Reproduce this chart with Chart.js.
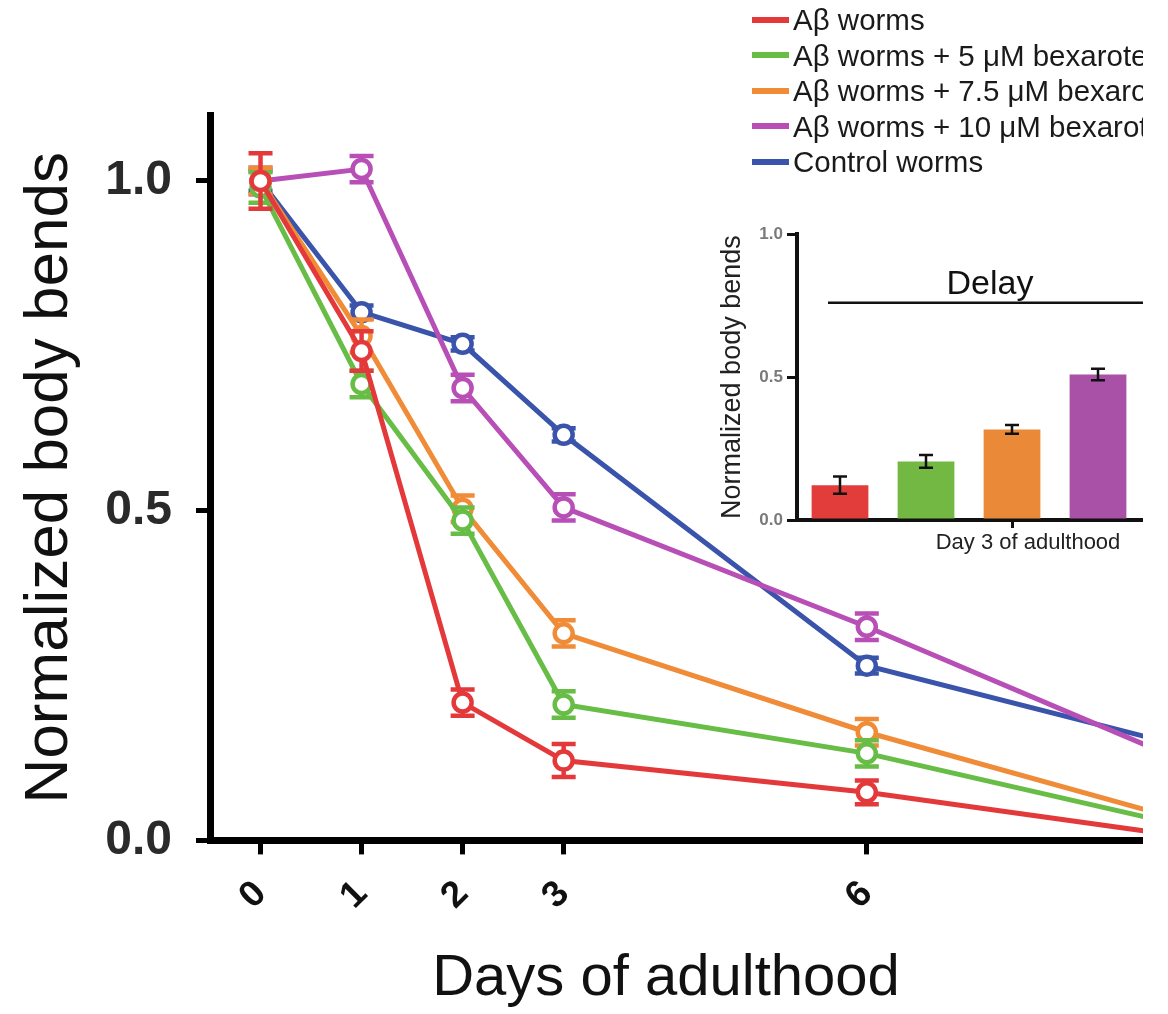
<!DOCTYPE html>
<html>
<head>
<meta charset="utf-8">
<script src="https://cdn.jsdelivr.net/npm/chart.js@4.4.1/dist/chart.umd.min.js"></script>
<style>
  body { margin: 0; background: #fff; }
  #wrap { position: relative; width: 1143px; height: 1014px; overflow: hidden; background: #fff; }
  #main { position: absolute; left: 0; top: 0; }
  #inset { position: absolute; left: 700px; top: 220px; }
  #legend { position: absolute; left: 752px; top: 2px; font-family: "Liberation Sans", Arial, sans-serif;
            font-size: 29.5px; color: #1a1a1a; white-space: nowrap; }
  #legend .row { height: 35.5px; line-height: 35.5px; display: flex; align-items: center; }
  #legend .sw { width: 37px; height: 6px; margin-right: 4px; }
</style>
</head>
<body>
<div id="wrap">
  <canvas id="main" width="1332" height="1014"></canvas>
  <canvas id="inset" width="560" height="340"></canvas>
  <div id="legend"></div>
</div>
<script>
// main chart data
var days = [0, 1, 2, 3, 6, 9];
var yTicks = [0, 0.5, 1.0];

var abWorms     = [1.00, 0.742, 0.209, 0.121, 0.073, 0.009];
var abBex5      = [0.99, 0.692, 0.485, 0.206, 0.132, 0.027];
var abBex75     = [1.00, 0.765, 0.503, 0.314, 0.164, 0.036];
var abBex10     = [1.00, 1.018, 0.686, 0.505, 0.324, 0.129];
var controlWorm = [1.00, 0.801, 0.753, 0.615, 0.265, 0.148];

var abWormsErr     = [0.042, 0.030, 0.020, 0.025, 0.018, 0.010];
var abBex5Err      = [0.023, 0.020, 0.020, 0.020, 0.020, 0.010];
var abBex75Err     = [0.020, 0.025, 0.020, 0.020, 0.020, 0.010];
var abBex10Err     = [0.020, 0.020, 0.020, 0.020, 0.020, 0.010];
var controlWormErr = [0.015, 0.010, 0.010, 0.010, 0.012, 0.010];

var seriesNames = ['A\u03b2 worms', 'A\u03b2 worms + 5 \u03bcM bexarotene', 'A\u03b2 worms + 7.5 \u03bcM bexarotene',
                   'A\u03b2 worms + 10 \u03bcM bexarotene', 'Control worms'];
var seriesColors = ['#e4393b', '#67bd45', '#f08c38', '#b74fb6', '#3a54ab'];

// inset (day 3) data
var insetLabels = ['Day 3 of adulthood'];
var insetValues = [0.122, 0.205, 0.317, 0.509, 0.615];
var insetErrors = [0.030, 0.022, 0.015, 0.020, 0.012];
var insetColors = ['#e23d3a', '#73b843', '#ea8a39', '#a851a6', '#3a54ab'];
var insetTicks = [0, 0.5, 1.0];
var delayLevel = 0.76;

Chart.defaults.font.family = '"Liberation Sans", Arial, sans-serif';
Chart.defaults.color = '#111';

function drawErrors(chart, index, opts) {
  var ds = chart.data.datasets[index];
  var meta = chart.getDatasetMeta(index);
  var yScale = chart.scales.y;
  var ctx = chart.ctx;
  ctx.save();
  ctx.strokeStyle = opts.color || ds.borderColor;
  ctx.lineWidth = opts.width;
  meta.data.forEach(function (el, i) {
    var v = meta.controller.getParsed(i).y;
    var e = ds.errors[i];
    var top = yScale.getPixelForValue(v + e);
    var bot = yScale.getPixelForValue(v - e);
    ctx.beginPath();
    ctx.moveTo(el.x, top); ctx.lineTo(el.x, bot);
    ctx.moveTo(el.x - opts.cap, top); ctx.lineTo(el.x + opts.cap, top);
    ctx.moveTo(el.x - opts.cap, bot); ctx.lineTo(el.x + opts.cap, bot);
    ctx.stroke();
  });
  ctx.restore();
}

var errorBars = {
  id: 'errorBars',
  beforeDatasetDraw: function (chart, args, opts) {
    if (opts.mode === 'before') drawErrors(chart, args.index, opts);
  },
  afterDatasetDraw: function (chart, args, opts) {
    if (opts.mode === 'after') drawErrors(chart, args.index, opts);
  }
};

var allSeries = [abWorms, abBex5, abBex75, abBex10, controlWorm];
var allErrors = [abWormsErr, abBex5Err, abBex75Err, abBex10Err, controlWormErr];

var lineSets = allSeries.map(function (vals, k) {
  return {
    label: seriesNames[k],
    data: days.map(function (d, i) { return { x: d, y: vals[i] }; }),
    errors: allErrors[k],
    borderColor: seriesColors[k],
    backgroundColor: seriesColors[k],
    borderWidth: 5,
    pointRadius: 9,
    pointBorderWidth: 4.5,
    pointBackgroundColor: '#fff',
    pointBorderColor: seriesColors[k],
    tension: 0
  };
});

new Chart(document.getElementById('main'), {
  type: 'line',
  data: { datasets: lineSets },
  plugins: [errorBars],
  options: {
    responsive: false,
    animation: false,
    layout: { padding: { top: 115, left: 0, right: 0, bottom: 0 } },
    plugins: {
      legend: { display: false },
      tooltip: { enabled: false },
      title: {
        display: true, position: 'bottom', text: 'Days of adulthood',
        font: { size: 58, weight: 'normal', lineHeight: 1.2 }, color: '#111', padding: 0
      },
      errorBars: { mode: 'before', width: 4.5, cap: 12 }
    },
    scales: {
      x: {
        type: 'linear', min: -0.5, max: 10.47,
        afterFit: function (s) { s.height = 104; },
        afterBuildTicks: function (s) { s.ticks = days.map(function (d) { return { value: d }; }); },
        grid: { drawOnChartArea: false, drawTicks: true, tickLength: 14, lineWidth: 5, color: '#000' },
        border: { display: true, width: 7, color: '#000' },
        ticks: { minRotation: 45, maxRotation: 45, padding: 18, color: '#111',
                 font: { size: 37, weight: 'bold' } }
      },
      y: {
        min: 0, max: 1.1,
        afterFit: function (s) { s.width = 210; },
        afterBuildTicks: function (s) { s.ticks = yTicks.map(function (v) { return { value: v }; }); },
        grid: { drawOnChartArea: false, drawTicks: true, tickLength: 14, lineWidth: 5, color: '#000' },
        border: { display: true, width: 7, color: '#000' },
        ticks: { padding: 24, color: '#2a2a2a', font: { size: 48, weight: 'bold' },
                 callback: function (v) { return v.toFixed(1); } },
        title: { display: true, text: 'Normalized body bends', color: '#111',
                 font: { size: 62, weight: 'normal', lineHeight: 1.2 }, padding: { top: 13, bottom: 0 } }
      }
    }
  }
});

// delay annotation for the inset
var delayMark = {
  id: 'delayMark',
  afterDraw: function (chart) {
    var bars = chart.getDatasetMeta(0).data;
    var last = chart.getDatasetMeta(chart.data.datasets.length - 1).data;
    var y = chart.scales.y.getPixelForValue(delayLevel);
    var x0 = bars[0].x - 12;
    var x1 = last[0].x - 32;
    var ctx = chart.ctx;
    ctx.save();
    ctx.strokeStyle = '#111';
    ctx.lineWidth = 2.5;
    ctx.beginPath(); ctx.moveTo(x0, y); ctx.lineTo(chart.chartArea.right, y); ctx.stroke();
    ctx.fillStyle = '#111';
    ctx.font = '34px "Liberation Sans", Arial, sans-serif';
    ctx.textAlign = 'center';
    ctx.textBaseline = 'alphabetic';
    ctx.fillText('Delay', (x0 + x1) / 2, y - 9);
    ctx.restore();
  }
};

var barSets = insetValues.map(function (v, k) {
  return {
    label: seriesNames[k],
    data: [v],
    errors: [insetErrors[k]],
    backgroundColor: insetColors[k],
    borderWidth: 0,
    categoryPercentage: 1.0,
    barPercentage: 0.66
  };
});

new Chart(document.getElementById('inset'), {
  type: 'bar',
  data: { labels: insetLabels, datasets: barSets },
  plugins: [errorBars, delayMark],
  options: {
    responsive: false,
    animation: false,
    layout: { padding: { top: 13, left: 0, right: 33, bottom: 0 } },
    plugins: {
      legend: { display: false },
      tooltip: { enabled: false },
      errorBars: { mode: 'after', width: 2.5, cap: 7, color: '#111' }
    },
    scales: {
      x: {
        afterFit: function (s) { s.height = 40; },
        grid: { drawOnChartArea: false, offset: false, tickLength: 8, lineWidth: 3, color: '#111' },
        border: { display: true, width: 4, color: '#111' },
        ticks: { labelOffset: 16, padding: 2, color: '#222', font: { size: 22 } }
      },
      y: {
        min: 0, max: 1.0,
        afterFit: function (s) { s.width = 97; },
        afterBuildTicks: function (s) { s.ticks = insetTicks.map(function (v) { return { value: v }; }); },
        grid: { drawOnChartArea: false, tickLength: 10, lineWidth: 3, color: '#111' },
        border: { display: true, width: 4, color: '#111' },
        ticks: { padding: 4, color: '#7a7a7a', font: { size: 17, weight: 'bold' },
                 callback: function (v) { return v.toFixed(1); } },
        title: { display: true, text: 'Normalized body bends', color: '#222',
                 font: { size: 27, weight: 'normal', lineHeight: 1.2 }, padding: { top: 16, bottom: 0 } }
      }
    }
  }
});

// legend
var legend = document.getElementById('legend');
seriesNames.forEach(function (name, k) {
  var row = document.createElement('div');
  row.className = 'row';
  var sw = document.createElement('span');
  sw.className = 'sw';
  sw.style.background = seriesColors[k];
  var txt = document.createElement('span');
  txt.textContent = name;
  row.appendChild(sw);
  row.appendChild(txt);
  legend.appendChild(row);
});
</script>
</body>
</html>
